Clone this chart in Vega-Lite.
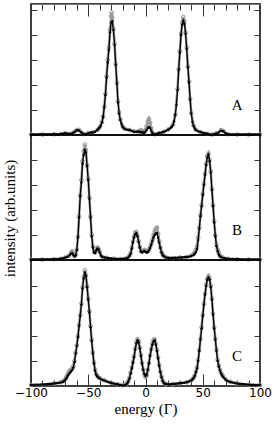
{
"$schema": "https://vega.github.io/schema/vega-lite/v6.json",
"padding": {"left": 1, "top": 2, "right": 2, "bottom": 2},
"spacing": 0,
"bounds": "flush",
"config": {
  "view": {"stroke": "black", "strokeWidth": 1.5},
  "axis": {"grid": false, "domain": false, "tickColor": "#333", "tickWidth": 1, "labelFlush": false,
           "labelFont": "DejaVu Sans", "labelFontSize": 12, "labelColor": "black",
           "titleFont": "Liberation Serif", "titleFontSize": 15, "titleFontWeight": "normal", "titleColor": "black"}
},
"datasets": {
"Ak": [{"e":-100,"i":0.02},{"e":-98,"i":0.02},{"e":-96,"i":0.02},{"e":-94,"i":0.02},{"e":-92,"i":0.03},{"e":-90,"i":0.02},{"e":-88,"i":0.03},{"e":-86,"i":0.02},{"e":-84,"i":0.03},{"e":-82,"i":0.02},{"e":-80,"i":0.03},{"e":-78,"i":0.03},{"e":-76,"i":0.02},{"e":-74,"i":0.04},{"e":-72,"i":0.05},{"e":-70,"i":0.07},{"e":-68,"i":0.05},{"e":-66,"i":0.04},{"e":-64,"i":0.07},{"e":-62,"i":0.12},{"e":-60,"i":0.19},{"e":-58,"i":0.18},{"e":-56,"i":0.1},{"e":-54,"i":0.03},{"e":-52,"i":0.03},{"e":-50,"i":0.07},{"e":-48,"i":0.1},{"e":-46,"i":0.1},{"e":-44,"i":0.13},{"e":-42,"i":0.2},{"e":-41,"i":0.25},{"e":-40,"i":0.3},{"e":-39,"i":0.38},{"e":-38,"i":0.5},{"e":-37,"i":0.72},{"e":-36,"i":1.1},{"e":-35,"i":1.6},{"e":-34,"i":2.3},{"e":-33,"i":2.9},{"e":-32,"i":3.4},{"e":-31,"i":4.1},{"e":-30,"i":4.5},{"e":-29,"i":4.55},{"e":-28,"i":4.2},{"e":-27,"i":3.6},{"e":-26,"i":2.8},{"e":-25,"i":2.05},{"e":-24,"i":1.3},{"e":-23,"i":0.85},{"e":-22,"i":0.6},{"e":-21,"i":0.45},{"e":-20,"i":0.33},{"e":-19,"i":0.27},{"e":-18,"i":0.24},{"e":-16,"i":0.21},{"e":-14,"i":0.2},{"e":-12,"i":0.16},{"e":-10,"i":0.13},{"e":-8,"i":0.12},{"e":-7,"i":0.14},{"e":-6,"i":0.12},{"e":-5,"i":0.13},{"e":-4,"i":0.1},{"e":-3,"i":0.12},{"e":-2,"i":0.09},{"e":-1,"i":0.09},{"e":0,"i":0.13},{"e":1,"i":0.2},{"e":2,"i":0.28},{"e":3,"i":0.32},{"e":4,"i":0.28},{"e":5,"i":0.18},{"e":6,"i":0.08},{"e":7,"i":0.03},{"e":8,"i":0.02},{"e":10,"i":0.05},{"e":12,"i":0.08},{"e":14,"i":0.1},{"e":16,"i":0.13},{"e":18,"i":0.17},{"e":20,"i":0.22},{"e":22,"i":0.28},{"e":23,"i":0.33},{"e":24,"i":0.4},{"e":25,"i":0.55},{"e":26,"i":0.8},{"e":27,"i":1.2},{"e":28,"i":1.8},{"e":29,"i":2.6},{"e":30,"i":3.3},{"e":31,"i":4.0},{"e":32,"i":4.4},{"e":33,"i":4.58},{"e":34,"i":4.45},{"e":35,"i":4.05},{"e":36,"i":3.45},{"e":37,"i":2.7},{"e":38,"i":2.1},{"e":39,"i":1.4},{"e":40,"i":0.85},{"e":41,"i":0.52},{"e":42,"i":0.36},{"e":43,"i":0.26},{"e":44,"i":0.2},{"e":46,"i":0.15},{"e":48,"i":0.12},{"e":50,"i":0.09},{"e":52,"i":0.07},{"e":54,"i":0.05},{"e":56,"i":0.02},{"e":58,"i":0.01},{"e":60,"i":0.04},{"e":62,"i":0.06},{"e":64,"i":0.1},{"e":66,"i":0.17},{"e":68,"i":0.15},{"e":70,"i":0.07},{"e":72,"i":0.03},{"e":74,"i":0.02},{"e":76,"i":0.02},{"e":78,"i":0.02},{"e":80,"i":0.02},{"e":82,"i":0.02},{"e":84,"i":0.02},{"e":86,"i":0.02},{"e":88,"i":0.02},{"e":90,"i":0.02},{"e":92,"i":0.02},{"e":94,"i":0.02},{"e":96,"i":0.02},{"e":98,"i":0.02},{"e":100,"i":0.02}],
"Ag": [{"e":-100,"i":0.02},{"e":-90,"i":0.02},{"e":-80,"i":0.03},{"e":-74,"i":0.04},{"e":-70,"i":0.08},{"e":-66,"i":0.05},{"e":-62,"i":0.13},{"e":-60,"i":0.2},{"e":-58,"i":0.2},{"e":-56,"i":0.1},{"e":-54,"i":0.04},{"e":-50,"i":0.08},{"e":-46,"i":0.11},{"e":-42,"i":0.2},{"e":-40,"i":0.32},{"e":-38,"i":0.52},{"e":-37,"i":0.75},{"e":-36,"i":1.15},{"e":-35,"i":1.65},{"e":-34,"i":2.35},{"e":-33,"i":3.0},{"e":-32,"i":3.5},{"e":-31,"i":4.2},{"e":-30,"i":4.75},{"e":-29.5,"i":4.9},{"e":-29,"i":4.7},{"e":-28,"i":4.25},{"e":-27,"i":3.65},{"e":-26,"i":2.85},{"e":-25,"i":2.1},{"e":-24,"i":1.35},{"e":-23,"i":0.9},{"e":-22,"i":0.62},{"e":-20,"i":0.35},{"e":-18,"i":0.25},{"e":-14,"i":0.2},{"e":-10,"i":0.15},{"e":-6,"i":0.15},{"e":-4,"i":0.2},{"e":-2,"i":0.15},{"e":0,"i":0.2},{"e":1,"i":0.35},{"e":2,"i":0.55},{"e":3,"i":0.65},{"e":4,"i":0.5},{"e":5,"i":0.28},{"e":6,"i":0.1},{"e":8,"i":0.03},{"e":12,"i":0.08},{"e":16,"i":0.13},{"e":20,"i":0.22},{"e":24,"i":0.42},{"e":26,"i":0.82},{"e":28,"i":1.85},{"e":29,"i":2.65},{"e":30,"i":3.35},{"e":31,"i":4.05},{"e":32,"i":4.5},{"e":33,"i":4.72},{"e":34,"i":4.55},{"e":35,"i":4.1},{"e":36,"i":3.5},{"e":37,"i":2.75},{"e":38,"i":2.15},{"e":39,"i":1.45},{"e":40,"i":0.88},{"e":42,"i":0.38},{"e":44,"i":0.21},{"e":48,"i":0.12},{"e":54,"i":0.05},{"e":58,"i":0.02},{"e":62,"i":0.07},{"e":66,"i":0.2},{"e":68,"i":0.16},{"e":72,"i":0.03},{"e":80,"i":0.02},{"e":90,"i":0.02},{"e":100,"i":0.02}],
"Bk": [{"e":-100,"i":0.02},{"e":-98,"i":0.02},{"e":-96,"i":0.02},{"e":-94,"i":0.02},{"e":-92,"i":0.02},{"e":-90,"i":0.02},{"e":-88,"i":0.02},{"e":-86,"i":0.03},{"e":-84,"i":0.02},{"e":-82,"i":0.03},{"e":-80,"i":0.03},{"e":-78,"i":0.03},{"e":-76,"i":0.04},{"e":-74,"i":0.05},{"e":-72,"i":0.07},{"e":-70,"i":0.1},{"e":-68,"i":0.13},{"e":-66,"i":0.2},{"e":-65,"i":0.25},{"e":-64,"i":0.27},{"e":-63,"i":0.2},{"e":-62,"i":0.14},{"e":-61,"i":0.18},{"e":-60,"i":0.4},{"e":-59,"i":0.9},{"e":-58,"i":1.7},{"e":-57,"i":2.55},{"e":-56,"i":3.1},{"e":-55,"i":3.85},{"e":-54,"i":4.2},{"e":-53,"i":4.4},{"e":-52,"i":4.3},{"e":-51,"i":3.75},{"e":-50,"i":3.2},{"e":-49,"i":2.45},{"e":-48,"i":1.7},{"e":-47,"i":0.95},{"e":-46,"i":0.5},{"e":-45,"i":0.3},{"e":-44,"i":0.28},{"e":-43,"i":0.38},{"e":-42,"i":0.46},{"e":-41,"i":0.42},{"e":-40,"i":0.3},{"e":-39,"i":0.18},{"e":-38,"i":0.13},{"e":-36,"i":0.1},{"e":-34,"i":0.09},{"e":-32,"i":0.07},{"e":-30,"i":0.06},{"e":-28,"i":0.05},{"e":-26,"i":0.05},{"e":-24,"i":0.04},{"e":-22,"i":0.04},{"e":-20,"i":0.05},{"e":-18,"i":0.05},{"e":-16,"i":0.07},{"e":-15,"i":0.1},{"e":-14,"i":0.16},{"e":-13,"i":0.25},{"e":-12,"i":0.45},{"e":-11,"i":0.7},{"e":-10,"i":0.9},{"e":-9,"i":1.03},{"e":-8,"i":1.07},{"e":-7,"i":0.95},{"e":-6,"i":0.72},{"e":-5,"i":0.5},{"e":-4,"i":0.34},{"e":-3,"i":0.3},{"e":-2,"i":0.33},{"e":-1,"i":0.36},{"e":0,"i":0.33},{"e":1,"i":0.3},{"e":2,"i":0.32},{"e":3,"i":0.38},{"e":4,"i":0.48},{"e":5,"i":0.6},{"e":6,"i":0.75},{"e":7,"i":0.9},{"e":8,"i":1.0},{"e":9,"i":1.06},{"e":10,"i":1.07},{"e":11,"i":0.9},{"e":12,"i":0.68},{"e":13,"i":0.48},{"e":14,"i":0.3},{"e":15,"i":0.2},{"e":16,"i":0.15},{"e":18,"i":0.1},{"e":20,"i":0.09},{"e":22,"i":0.08},{"e":24,"i":0.08},{"e":26,"i":0.09},{"e":28,"i":0.09},{"e":30,"i":0.1},{"e":32,"i":0.1},{"e":34,"i":0.11},{"e":36,"i":0.12},{"e":38,"i":0.13},{"e":40,"i":0.16},{"e":42,"i":0.2},{"e":43,"i":0.25},{"e":44,"i":0.32},{"e":45,"i":0.45},{"e":46,"i":0.8},{"e":47,"i":1.25},{"e":48,"i":1.75},{"e":49,"i":2.15},{"e":50,"i":2.6},{"e":51,"i":3.0},{"e":52,"i":3.4},{"e":53,"i":3.8},{"e":54,"i":4.1},{"e":55,"i":4.22},{"e":56,"i":3.95},{"e":57,"i":3.5},{"e":58,"i":2.8},{"e":59,"i":2.15},{"e":60,"i":1.5},{"e":61,"i":0.95},{"e":62,"i":0.55},{"e":63,"i":0.35},{"e":64,"i":0.22},{"e":65,"i":0.15},{"e":66,"i":0.12},{"e":68,"i":0.08},{"e":70,"i":0.06},{"e":72,"i":0.05},{"e":74,"i":0.04},{"e":76,"i":0.04},{"e":78,"i":0.03},{"e":80,"i":0.03},{"e":82,"i":0.03},{"e":84,"i":0.02},{"e":86,"i":0.02},{"e":88,"i":0.02},{"e":90,"i":0.02},{"e":92,"i":0.02},{"e":94,"i":0.02},{"e":96,"i":0.02},{"e":98,"i":0.02},{"e":100,"i":0.02}],
"Bg": [{"e":-100,"i":0.02},{"e":-90,"i":0.02},{"e":-80,"i":0.03},{"e":-74,"i":0.05},{"e":-70,"i":0.1},{"e":-67,"i":0.17},{"e":-65,"i":0.3},{"e":-64,"i":0.35},{"e":-63,"i":0.25},{"e":-62,"i":0.16},{"e":-61,"i":0.2},{"e":-60,"i":0.42},{"e":-59,"i":0.95},{"e":-58,"i":1.75},{"e":-57,"i":2.6},{"e":-56,"i":3.2},{"e":-55,"i":3.95},{"e":-54,"i":4.35},{"e":-53,"i":4.62},{"e":-52,"i":4.4},{"e":-51,"i":3.8},{"e":-50,"i":3.25},{"e":-49,"i":2.5},{"e":-48,"i":1.75},{"e":-47,"i":1.0},{"e":-46,"i":0.55},{"e":-45,"i":0.33},{"e":-44,"i":0.3},{"e":-43,"i":0.4},{"e":-42,"i":0.5},{"e":-41,"i":0.45},{"e":-40,"i":0.32},{"e":-38,"i":0.14},{"e":-34,"i":0.09},{"e":-28,"i":0.05},{"e":-22,"i":0.04},{"e":-18,"i":0.05},{"e":-16,"i":0.08},{"e":-14,"i":0.18},{"e":-13,"i":0.27},{"e":-12,"i":0.5},{"e":-11,"i":0.75},{"e":-10,"i":0.95},{"e":-9,"i":1.1},{"e":-8,"i":1.12},{"e":-7,"i":0.98},{"e":-6,"i":0.75},{"e":-5,"i":0.52},{"e":-4,"i":0.36},{"e":-3,"i":0.34},{"e":-2,"i":0.38},{"e":-1,"i":0.4},{"e":0,"i":0.37},{"e":1,"i":0.33},{"e":2,"i":0.35},{"e":3,"i":0.42},{"e":4,"i":0.52},{"e":5,"i":0.65},{"e":6,"i":0.82},{"e":7,"i":1.0},{"e":8,"i":1.15},{"e":9,"i":1.25},{"e":10,"i":1.29},{"e":11,"i":1.05},{"e":12,"i":0.75},{"e":13,"i":0.5},{"e":14,"i":0.32},{"e":15,"i":0.22},{"e":16,"i":0.16},{"e":18,"i":0.1},{"e":24,"i":0.08},{"e":30,"i":0.1},{"e":36,"i":0.13},{"e":40,"i":0.18},{"e":42,"i":0.24},{"e":43,"i":0.3},{"e":44,"i":0.4},{"e":45,"i":0.55},{"e":46,"i":0.9},{"e":47,"i":1.3},{"e":48,"i":1.8},{"e":49,"i":2.2},{"e":50,"i":2.65},{"e":51,"i":3.05},{"e":52,"i":3.45},{"e":53,"i":3.85},{"e":54,"i":4.15},{"e":55,"i":4.26},{"e":56,"i":4.0},{"e":57,"i":3.55},{"e":58,"i":2.85},{"e":59,"i":2.2},{"e":60,"i":1.55},{"e":61,"i":1.0},{"e":62,"i":0.62},{"e":63,"i":0.42},{"e":64,"i":0.28},{"e":65,"i":0.18},{"e":66,"i":0.13},{"e":68,"i":0.09},{"e":72,"i":0.05},{"e":80,"i":0.03},{"e":90,"i":0.02},{"e":100,"i":0.02}],
"Ck": [{"e":-100,"i":0.04},{"e":-98,"i":0.04},{"e":-96,"i":0.05},{"e":-94,"i":0.05},{"e":-92,"i":0.05},{"e":-90,"i":0.06},{"e":-88,"i":0.06},{"e":-86,"i":0.07},{"e":-84,"i":0.08},{"e":-82,"i":0.09},{"e":-80,"i":0.1},{"e":-78,"i":0.11},{"e":-76,"i":0.12},{"e":-74,"i":0.14},{"e":-72,"i":0.17},{"e":-71,"i":0.2},{"e":-70,"i":0.25},{"e":-69,"i":0.32},{"e":-68,"i":0.4},{"e":-67,"i":0.47},{"e":-66,"i":0.53},{"e":-65,"i":0.58},{"e":-64,"i":0.64},{"e":-63,"i":0.74},{"e":-62,"i":0.95},{"e":-61,"i":1.3},{"e":-60,"i":1.6},{"e":-59,"i":1.95},{"e":-58,"i":2.4},{"e":-57,"i":2.8},{"e":-56,"i":3.25},{"e":-55,"i":3.9},{"e":-54,"i":4.3},{"e":-53,"i":4.54},{"e":-52,"i":4.4},{"e":-51,"i":3.95},{"e":-50,"i":3.45},{"e":-49,"i":2.95},{"e":-48,"i":2.35},{"e":-47,"i":1.8},{"e":-46,"i":1.3},{"e":-45,"i":0.9},{"e":-44,"i":0.6},{"e":-43,"i":0.45},{"e":-42,"i":0.38},{"e":-41,"i":0.33},{"e":-40,"i":0.3},{"e":-38,"i":0.25},{"e":-36,"i":0.22},{"e":-34,"i":0.18},{"e":-32,"i":0.15},{"e":-30,"i":0.12},{"e":-28,"i":0.1},{"e":-26,"i":0.08},{"e":-24,"i":0.06},{"e":-22,"i":0.04},{"e":-20,"i":0.02},{"e":-18,"i":0.03},{"e":-17,"i":0.06},{"e":-16,"i":0.1},{"e":-15,"i":0.18},{"e":-14,"i":0.3},{"e":-13,"i":0.5},{"e":-12,"i":0.7},{"e":-11,"i":0.92},{"e":-10,"i":1.15},{"e":-9,"i":1.45},{"e":-8,"i":1.7},{"e":-7,"i":1.82},{"e":-6,"i":1.75},{"e":-5,"i":1.5},{"e":-4,"i":1.2},{"e":-3,"i":0.9},{"e":-2,"i":0.65},{"e":-1,"i":0.48},{"e":0,"i":0.4},{"e":1,"i":0.45},{"e":2,"i":0.65},{"e":3,"i":0.9},{"e":4,"i":1.2},{"e":5,"i":1.45},{"e":6,"i":1.65},{"e":7,"i":1.78},{"e":8,"i":1.82},{"e":9,"i":1.65},{"e":10,"i":1.4},{"e":11,"i":1.1},{"e":12,"i":0.8},{"e":13,"i":0.55},{"e":14,"i":0.35},{"e":15,"i":0.2},{"e":16,"i":0.12},{"e":17,"i":0.09},{"e":18,"i":0.08},{"e":20,"i":0.07},{"e":22,"i":0.07},{"e":24,"i":0.08},{"e":26,"i":0.09},{"e":28,"i":0.1},{"e":30,"i":0.11},{"e":32,"i":0.12},{"e":34,"i":0.13},{"e":36,"i":0.15},{"e":38,"i":0.18},{"e":40,"i":0.22},{"e":41,"i":0.26},{"e":42,"i":0.32},{"e":43,"i":0.4},{"e":44,"i":0.55},{"e":45,"i":0.7},{"e":46,"i":1.0},{"e":47,"i":1.4},{"e":48,"i":1.85},{"e":49,"i":2.3},{"e":50,"i":2.8},{"e":51,"i":3.25},{"e":52,"i":3.65},{"e":53,"i":4.0},{"e":54,"i":4.25},{"e":55,"i":4.34},{"e":56,"i":4.25},{"e":57,"i":3.95},{"e":58,"i":3.45},{"e":59,"i":2.85},{"e":60,"i":2.3},{"e":61,"i":1.85},{"e":62,"i":1.4},{"e":63,"i":1.0},{"e":64,"i":0.78},{"e":65,"i":0.62},{"e":66,"i":0.5},{"e":67,"i":0.42},{"e":68,"i":0.35},{"e":70,"i":0.25},{"e":72,"i":0.19},{"e":74,"i":0.16},{"e":76,"i":0.14},{"e":78,"i":0.12},{"e":80,"i":0.1},{"e":82,"i":0.09},{"e":84,"i":0.08},{"e":86,"i":0.07},{"e":88,"i":0.06},{"e":90,"i":0.05},{"e":92,"i":0.05},{"e":94,"i":0.05},{"e":96,"i":0.04},{"e":98,"i":0.04},{"e":100,"i":0.04}],
"Cg": [{"e":-100,"i":0.04},{"e":-90,"i":0.06},{"e":-80,"i":0.1},{"e":-74,"i":0.15},{"e":-72,"i":0.19},{"e":-70,"i":0.28},{"e":-69,"i":0.36},{"e":-68,"i":0.46},{"e":-67,"i":0.55},{"e":-66,"i":0.62},{"e":-65,"i":0.66},{"e":-64,"i":0.7},{"e":-63,"i":0.8},{"e":-62,"i":1.0},{"e":-61,"i":1.33},{"e":-60,"i":1.63},{"e":-59,"i":2.0},{"e":-58,"i":2.45},{"e":-57,"i":2.85},{"e":-56,"i":3.3},{"e":-55,"i":3.95},{"e":-54,"i":4.38},{"e":-53,"i":4.63},{"e":-52,"i":4.45},{"e":-51,"i":4.0},{"e":-50,"i":3.5},{"e":-49,"i":3.0},{"e":-48,"i":2.4},{"e":-47,"i":1.85},{"e":-46,"i":1.35},{"e":-45,"i":0.95},{"e":-44,"i":0.65},{"e":-43,"i":0.48},{"e":-42,"i":0.4},{"e":-40,"i":0.32},{"e":-36,"i":0.23},{"e":-30,"i":0.13},{"e":-24,"i":0.07},{"e":-20,"i":0.03},{"e":-17,"i":0.07},{"e":-16,"i":0.12},{"e":-15,"i":0.2},{"e":-14,"i":0.33},{"e":-13,"i":0.53},{"e":-12,"i":0.74},{"e":-11,"i":0.96},{"e":-10,"i":1.2},{"e":-9,"i":1.5},{"e":-8,"i":1.75},{"e":-7,"i":1.87},{"e":-6,"i":1.8},{"e":-5,"i":1.55},{"e":-4,"i":1.25},{"e":-3,"i":0.93},{"e":-2,"i":0.66},{"e":-1,"i":0.46},{"e":0,"i":0.36},{"e":1,"i":0.42},{"e":2,"i":0.64},{"e":3,"i":0.92},{"e":4,"i":1.24},{"e":5,"i":1.5},{"e":6,"i":1.7},{"e":7,"i":1.84},{"e":8,"i":1.87},{"e":9,"i":1.7},{"e":10,"i":1.45},{"e":11,"i":1.15},{"e":12,"i":0.85},{"e":13,"i":0.58},{"e":14,"i":0.38},{"e":15,"i":0.22},{"e":16,"i":0.13},{"e":18,"i":0.08},{"e":24,"i":0.08},{"e":30,"i":0.11},{"e":36,"i":0.15},{"e":40,"i":0.23},{"e":42,"i":0.33},{"e":43,"i":0.42},{"e":44,"i":0.58},{"e":45,"i":0.74},{"e":46,"i":1.05},{"e":47,"i":1.45},{"e":48,"i":1.9},{"e":49,"i":2.35},{"e":50,"i":2.85},{"e":51,"i":3.3},{"e":52,"i":3.7},{"e":53,"i":4.05},{"e":54,"i":4.3},{"e":55,"i":4.4},{"e":56,"i":4.3},{"e":57,"i":4.0},{"e":58,"i":3.5},{"e":59,"i":2.9},{"e":60,"i":2.35},{"e":61,"i":1.9},{"e":62,"i":1.45},{"e":63,"i":1.05},{"e":64,"i":0.82},{"e":65,"i":0.66},{"e":66,"i":0.53},{"e":67,"i":0.44},{"e":68,"i":0.37},{"e":70,"i":0.27},{"e":74,"i":0.17},{"e":80,"i":0.1},{"e":90,"i":0.05},{"e":100,"i":0.04}]
},
"vconcat": [
{
  "width": 229, "height": 131,
  "layer": [
    {"data": {"name": "Ag"},
     "mark": {"type": "line", "color": "#9a9a9a", "strokeWidth": 2.5, "point": {"filled": false, "size": 14, "stroke": "#9a9a9a", "strokeWidth": 1}},
     "encoding": {
       "x": {"field": "e", "type": "quantitative", "scale": {"domain": [-100, 100], "nice": false},
             "axis": {"orient": "top", "values": [-100,-90,-80,-70,-60,-50,-40,-30,-20,-10,0,10,20,30,40,50,60,70,80,90,100], "labels": false, "tickSize": -6, "domain": true, "domainColor": "#777", "title": null}},
       "y": {"field": "i", "type": "quantitative", "scale": {"domain": [0, 5.24], "nice": false},
             "axis": {"orient": "right", "values": [1,2,3,4,5], "labels": false, "tickSize": -6, "title": null}}
     }},
    {"data": {"name": "Ak"},
     "mark": {"type": "line", "color": "black", "strokeWidth": 1.3, "point": {"filled": true, "size": 6, "color": "black"}},
     "encoding": {
       "x": {"field": "e", "type": "quantitative", "axis": {"orient": "top", "values": [-100,-50,0,50,100], "labels": false, "tickSize": -12, "title": null}},
       "y": {"field": "i", "type": "quantitative", "axis": {"orient": "left", "values": [1,2,3,4,5], "labels": false, "tickSize": -6, "title": null}}
     }},
    {"data": {"values": [{"t": "A"}]},
     "mark": {"type": "text", "font": "Liberation Serif", "fontSize": 15, "align": "center", "baseline": "alphabetic", "color": "black"},
     "encoding": {"x": {"datum": 80, "type": "quantitative", "axis": null}, "y": {"datum": 1, "type": "quantitative", "axis": null}, "text": {"field": "t"}}}
  ],
  "resolve": {"axis": {"x": "independent", "y": "independent"}}
},
{
  "width": 229, "height": 125,
  "layer": [
    {"data": {"name": "Bg"},
     "mark": {"type": "line", "color": "#9a9a9a", "strokeWidth": 2.5, "point": {"filled": false, "size": 14, "stroke": "#9a9a9a", "strokeWidth": 1}},
     "encoding": {
       "x": {"field": "e", "type": "quantitative", "scale": {"domain": [-100, 100], "nice": false}, "axis": null},
       "y": {"field": "i", "type": "quantitative", "scale": {"domain": [0, 5], "nice": false},
             "axis": {"orient": "right", "values": [1,2,3,4], "labels": false, "tickSize": -6, "title": null}}
     }},
    {"data": {"name": "Bk"},
     "mark": {"type": "line", "color": "black", "strokeWidth": 1.3, "point": {"filled": true, "size": 6, "color": "black"}},
     "encoding": {
       "x": {"field": "e", "type": "quantitative", "axis": null},
       "y": {"field": "i", "type": "quantitative", "axis": {"orient": "left", "values": [1,2,3,4], "labels": false, "tickSize": -6, "title": "intensity (arb.units)", "titlePadding": 13, "titleY": 83}}
     }},
    {"data": {"values": [{"t": "B"}]},
     "mark": {"type": "text", "font": "Liberation Serif", "fontSize": 15, "align": "center", "baseline": "alphabetic", "color": "black"},
     "encoding": {"x": {"datum": 80, "type": "quantitative", "axis": null}, "y": {"datum": 1, "type": "quantitative", "axis": null}, "text": {"field": "t"}}}
  ],
  "resolve": {"axis": {"x": "independent", "y": "independent"}}
},
{
  "width": 229, "height": 126,
  "layer": [
    {"data": {"name": "Cg"},
     "mark": {"type": "line", "color": "#9a9a9a", "strokeWidth": 2.5, "point": {"filled": false, "size": 14, "stroke": "#9a9a9a", "strokeWidth": 1}},
     "encoding": {
       "x": {"field": "e", "type": "quantitative", "scale": {"domain": [-100, 100], "nice": false},
             "axis": {"orient": "bottom", "values": [-100,-90,-80,-70,-60,-50,-40,-30,-20,-10,0,10,20,30,40,50,60,70,80,90,100], "labels": false, "tickSize": -6, "title": null}},
       "y": {"field": "i", "type": "quantitative", "scale": {"domain": [0, 5.04], "nice": false},
             "axis": {"orient": "right", "values": [1,2,3,4], "labels": false, "tickSize": -6, "title": null}}
     }},
    {"data": {"name": "Ck"},
     "mark": {"type": "line", "color": "black", "strokeWidth": 1.3, "point": {"filled": true, "size": 6, "color": "black"}},
     "encoding": {
       "x": {"field": "e", "type": "quantitative", "axis": {"orient": "bottom", "values": [-100,-50,0,50,100], "tickSize": -12, "labelPadding": 13, "title": "energy (Γ)", "titlePadding": 3}},
       "y": {"field": "i", "type": "quantitative", "axis": {"orient": "left", "values": [1,2,3,4], "labels": false, "tickSize": -6, "title": null}}
     }},
    {"data": {"values": [{"t": "C"}]},
     "mark": {"type": "text", "font": "Liberation Serif", "fontSize": 15, "align": "center", "baseline": "alphabetic", "color": "black"},
     "encoding": {"x": {"datum": 80, "type": "quantitative", "axis": null}, "y": {"datum": 1, "type": "quantitative", "axis": null}, "text": {"field": "t"}}}
  ],
  "resolve": {"axis": {"x": "independent", "y": "independent"}}
}
]
}
